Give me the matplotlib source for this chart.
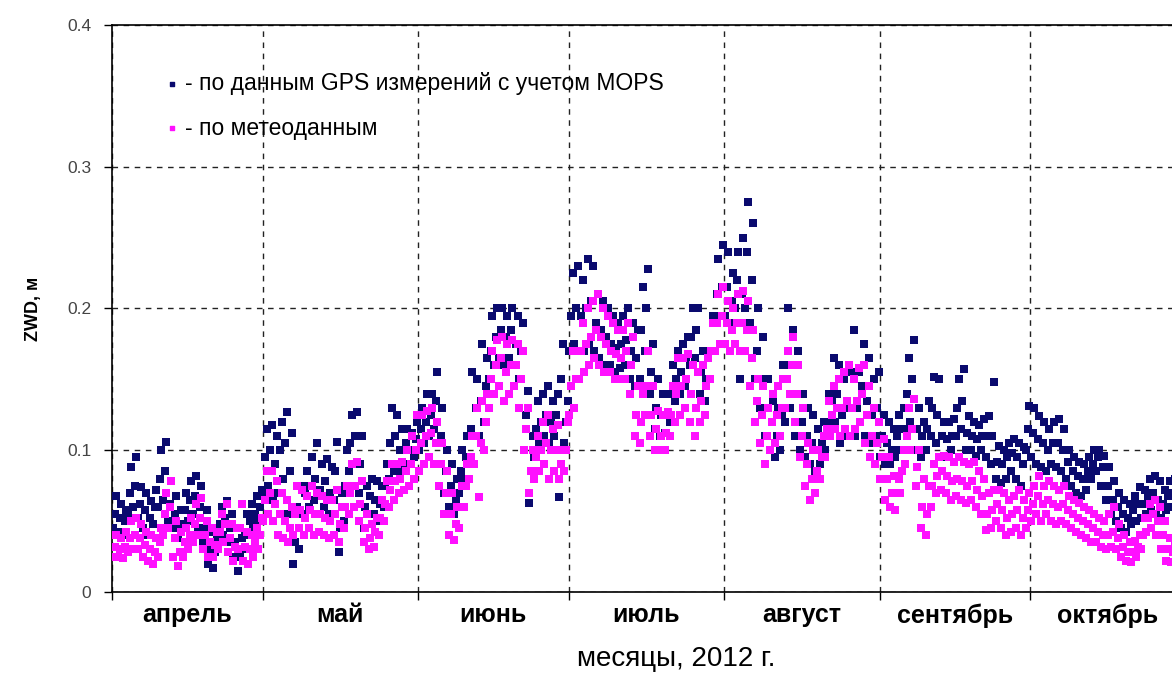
import numpy as np
import matplotlib
matplotlib.use("Agg")
import matplotlib.pyplot as plt

plt.rcParams['font.family'] = ['Liberation Sans', 'DejaVu Sans']

# ZWD values in mm, three readings per day (low, mid, high)
gps_apr = [(45,55,68),(42,52,62),(40,50,58),(55,70,88),(60,75,95),(52,62,74),(45,58,70),(40,52,64),(48,60,72),(60,80,100),
           (65,85,106),(50,62,78),(45,55,68),(38,48,58),(45,58,70),(50,65,78),(55,68,82),(45,60,75),(35,45,58),(20,30,42),
           (17,28,40),(35,48,60),(40,52,64),(35,45,55),(25,35,45),(15,25,38),(30,42,55),(40,50,62),(45,55,68),(50,60,72)]
gps_may = [(70,95,115),(75,100,118),(65,90,110),(70,100,120),(80,105,127),(55,85,112),(20,35,60),(30,55,75),(55,70,85),(60,75,95),
           (65,80,105),(55,72,90),(60,78,94),(55,70,88),(65,85,106),(28,45,70),(50,75,100),(85,105,125),(90,110,127),(70,90,110),
           (45,60,75),(55,68,80),(55,65,78),(50,62,75),(60,75,90),(80,105,130),(85,110,125),(85,100,115),(90,105,115),(90,100,112),
           (95,108,120)]
gps_jun = [(100,115,130),(105,120,140),(110,125,140),(115,135,155),(90,110,130),(70,85,100),(60,75,90),(55,65,80),(70,85,100),(80,95,110),
           (95,115,155),(110,130,150),(110,135,175),(120,145,165),(150,170,195),(160,180,200),(165,185,200),(160,180,195),(165,185,200),(160,175,195),
           (150,170,190),(100,125,142),(63,85,110),(95,115,135),(105,120,140),(110,125,145),(105,120,135),(110,125,140),(67,150,175),(105,120,135)]
gps_jul = [(170,195,225),(175,200,230),(170,195,220),(170,200,235),(175,205,230),(170,190,210),(165,185,205),(160,180,200),(160,175,195),(155,172,190),
           (158,175,195),(160,178,200),(150,170,190),(145,165,185),(150,185,215),(170,200,228),(140,155,175),(115,130,150),(110,125,140),(112,125,140),
           (120,140,160),(135,150,170),(140,155,175),(145,165,180),(160,180,200),(165,185,200),(140,155,170),(135,150,170),(150,170,195),(190,210,235),
           (195,215,245)]
gps_aug = [(195,215,240),(190,205,225),(200,220,240),(150,210,250),(200,240,275),(190,220,260),(150,170,200),(130,150,180),(110,130,150),(100,120,135),
           (95,110,130),(100,125,160),(120,160,200),(130,160,185),(110,140,170),(100,120,140),(95,110,130),(90,105,125),(85,100,115),(90,105,120),
           (100,120,140),(110,135,165),(120,140,160),(105,125,150),(110,135,160),(130,155,185),(110,130,155),(120,145,175),(110,135,165),(105,125,150),
           (110,130,155)]
gps_sep = [(95,110,125),(90,105,120),(90,100,115),(95,110,125),(100,115,130),(115,140,165),(120,150,178),(100,115,130),(95,110,120),(100,115,135),
           (110,130,152),(105,125,150),(95,110,120),(96,108,120),(100,110,122),(110,130,150),(115,135,157),(100,112,124),(100,110,120),(96,108,118),
           (100,110,122),(95,110,124),(90,110,148),(80,92,103),(77,90,100),(80,95,105),(85,98,108),(80,95,105),(75,90,102),(100,115,131)]
gps_oct = [(95,112,130),(90,108,124),(88,105,120),(85,100,115),(90,105,120),(88,105,122),(85,100,115),(80,92,100),(75,85,95),(70,82,92),
           (68,80,90),(72,85,95),(80,90,100),(85,95,100),(75,88,96),(65,75,88),(55,65,78),(50,60,70),(45,55,65),(42,52,62),
           (48,58,68),(50,62,74),(52,62,72),(55,68,80),(58,70,82),(55,65,78),(52,62,72),(58,68,78),(60,70,80)]

met_apr = [(25,32,40),(25,30,38),(24,32,42),(28,38,50),(30,40,52),(30,38,48),(25,33,42),(22,30,40),(20,28,38),(25,35,45),
           (40,55,70),(45,60,78),(25,38,50),(18,28,42),(25,35,45),(30,40,52),(35,48,62),(40,52,66),(30,40,50),(25,35,45),
           (25,33,42),(30,42,55),(35,48,62),(28,38,48),(22,32,45),(30,45,62),(22,32,42),(20,30,40),(25,35,45),(30,40,52)]
met_may = [(50,65,85),(55,70,85),(50,62,78),(40,55,70),(38,50,65),(35,45,60),(40,55,75),(45,58,72),(40,52,68),(45,58,75),
           (40,55,70),(42,55,68),(40,52,65),(38,50,65),(40,55,72),(35,48,60),(45,60,75),(55,70,90),(60,75,92),(50,62,78),
           (35,45,55),(30,38,48),(32,42,52),(40,52,65),(50,62,78),(60,72,90),(65,78,90),(70,80,92),(72,85,100),(75,90,110),
           (80,100,125)]
met_jun = [(85,105,125),(90,110,128),(95,112,130),(90,105,120),(75,90,105),(55,70,85),(40,55,70),(37,48,60),(45,60,75),(60,75,90),
           (80,95,110),(90,110,130),(67,105,135),(100,120,140),(130,150,170),(140,160,178),(145,165,180),(135,155,175),(140,160,178),(145,160,175),
           (130,150,170),(100,115,130),(70,85,100),(80,95,110),(85,100,120),(90,105,125),(80,100,115),(85,100,118),(80,90,100),(85,100,120)]
met_jul = [(125,145,170),(130,150,170),(150,170,190),(155,175,200),(160,180,205),(165,185,210),(160,180,200),(155,175,195),(155,170,190),(150,168,185),
           (150,165,185),(150,170,190),(140,160,180),(110,125,145),(105,120,140),(125,145,170),(110,125,145),(100,115,128),(100,110,125),(100,112,127),
           (110,125,145),(120,140,165),(125,145,165),(130,150,168),(120,140,160),(110,130,155),(120,135,160),(125,145,165),(150,170,190),(170,190,210),
           (175,195,215)]
met_aug = [(175,190,205),(170,185,200),(175,190,210),(170,190,212),(170,185,205),(145,165,185),(120,135,150),(105,125,145),(90,110,130),(100,120,140),
           (105,125,145),(110,130,150),(130,150,170),(140,160,180),(120,140,160),(95,110,130),(75,90,105),(65,80,100),(70,85,100),(80,95,110),
           (95,115,135),(110,125,145),(115,130,150),(110,130,155),(115,135,160),(110,130,150),(115,135,158),(120,140,160),(105,125,145),(95,110,130),
           (90,105,120)]
met_sep = [(80,95,108),(65,80,95),(60,70,82),(58,70,80),(70,85,100),(90,110,130),(100,115,136),(75,88,100),(45,60,80),(40,55,75),
           (60,75,90),(70,82,95),(72,85,96),(70,82,95),(65,78,92),(68,80,95),(65,78,92),(63,75,90),(65,78,92),(60,72,85),
           (55,68,80),(44,55,70),(45,58,72),(50,62,72),(45,58,70),(40,52,65),(42,55,68),(45,58,72),(40,52,65),(45,58,70)]
met_oct = [(50,62,75),(55,68,82),(50,62,75),(55,65,78),(50,62,75),(48,60,72),(50,62,75),(48,58,68),(45,55,65),(42,52,63),
           (40,50,60),(38,48,58),(35,45,55),(35,42,52),(32,40,50),(30,40,55),(32,42,60),(30,38,48),(25,32,40),(22,28,35),
           (21,28,36),(25,32,40),(30,40,52),(42,52,62),(45,55,65),(40,50,60),(30,40,50),(22,30,38),(21,28,35)]

months = ["апрель", "май", "июнь", "июль", "август", "сентябрь", "октябрь"]
month_days = [30, 31, 30, 31, 31, 30, 31]

gps = np.array(gps_apr + gps_may + gps_jun + gps_jul + gps_aug + gps_sep + gps_oct) / 1000.0
met = np.array(met_apr + met_may + met_jun + met_jul + met_aug + met_sep + met_oct) / 1000.0

# day index since 1 April, three readings spread over each day
day = np.arange(len(gps))
t = (day[:, None] + np.array([0.17, 0.5, 0.83])).ravel()

fig = plt.figure(figsize=(11.72, 6.75), dpi=100)
ax = fig.add_axes([0.0956, 0.123, 0.9044, 0.84])

navy = "#0a0a6e"
pink = "#ff10ff"
ax.scatter(t, gps.ravel(), marker="s", s=34, color=navy, linewidths=0, zorder=3)
ax.scatter(t, met.ravel(), marker="s", s=34, color=pink, linewidths=0, zorder=4)

# axes limits and month ticks
starts = np.concatenate([[0], np.cumsum(month_days)[:-1]])
mids = starts + np.array(month_days) / 2.0
ax.set_xlim(0, 211.3)
ax.set_ylim(0, 0.4)
ax.set_xticks(starts)
ax.set_xticklabels([])
ax.set_xticks(mids, minor=True)
ax.set_xticklabels(months, minor=True, fontsize=18, fontweight="bold")
ax.tick_params(axis="x", which="major", direction="out", length=6, width=1)
ax.tick_params(axis="x", which="minor", length=0, pad=8)
ax.set_yticks([0, 0.1, 0.2, 0.3, 0.4])
ax.set_yticklabels(["0", "0.1", "0.2", "0.3", "0.4"], fontsize=12.5, color="#444444")
ax.tick_params(axis="y", direction="out", length=6, width=1, pad=9)

ax.grid(True, which="major", color="#222222", linestyle=(0, (4, 4)), linewidth=1)
ax.spines["right"].set_visible(False)
for s in ["left", "bottom", "top"]:
    ax.spines[s].set_linewidth(1.2)

ax.set_xlabel("месяцы, 2012 г.", fontsize=20)
ax.xaxis.set_label_coords(0.532, -0.095)
ax.set_ylabel("ZWD, м", fontsize=13, fontweight="bold")
ax.yaxis.set_label_coords(-0.066, 0.5)

# legend drawn as text with small square markers
ax.scatter([0.057], [0.896], marker="s", s=12, color=navy, transform=ax.transAxes, clip_on=False, zorder=5)
ax.scatter([0.057], [0.818], marker="s", s=12, color=pink, transform=ax.transAxes, clip_on=False, zorder=5)
ax.text(0.069, 0.896, "- по данным GPS измерений с учетом MOPS", transform=ax.transAxes,
        fontsize=16.5, va="center", ha="left")
ax.text(0.069, 0.818, "- по метеоданным", transform=ax.transAxes,
        fontsize=16.5, va="center", ha="left")

fig.savefig("out.png", dpi=100)
